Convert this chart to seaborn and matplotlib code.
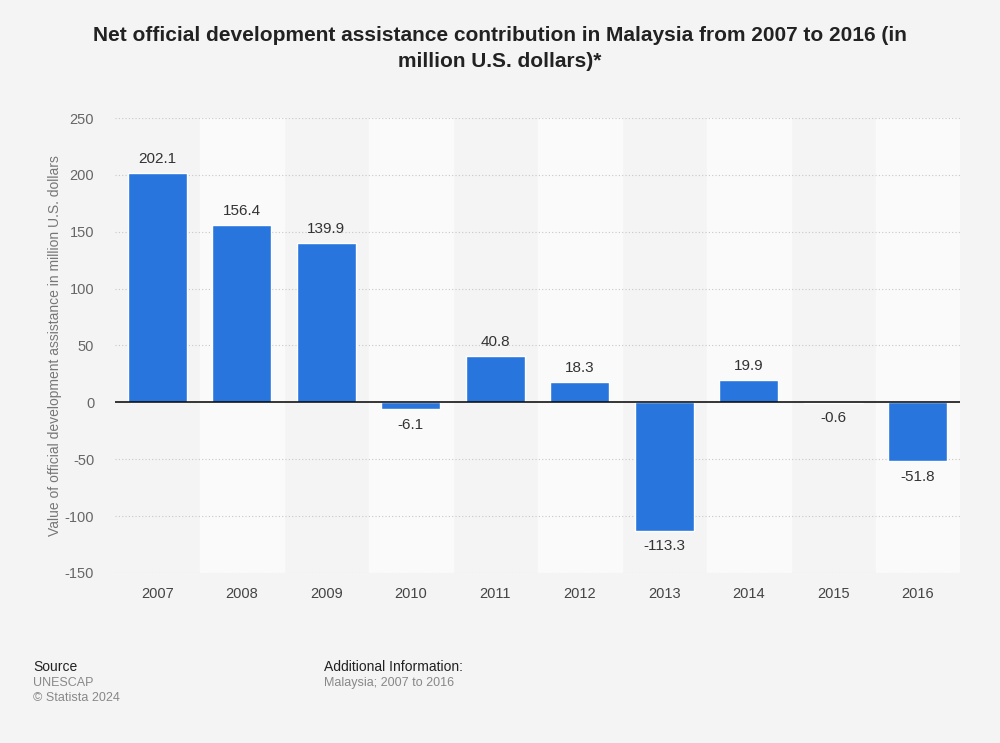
import matplotlib
matplotlib.use("Agg")
import matplotlib.pyplot as plt
import seaborn as sns
import pandas as pd

# data
years = ["2007", "2008", "2009", "2010", "2011", "2012", "2013", "2014", "2015", "2016"]
values = [202.1, 156.4, 139.9, -6.1, 40.8, 18.3, -113.3, 19.9, -0.6, -51.8]
y_ticks = [-150, -100, -50, 0, 50, 100, 150, 200, 250]

df = pd.DataFrame({"year": years, "value": values})

sns.set_style("white")
plt.rcParams["font.family"] = ["Liberation Sans", "DejaVu Sans"]

bg = "#f4f4f4"
fig = plt.figure(figsize=(10, 7.43), dpi=100, facecolor=bg)
ax = fig.add_axes([0.115, 0.229, 0.845, 0.612])
ax.set_facecolor(bg)

# alternating column bands
for i in range(len(years)):
    if i % 2 == 1:
        ax.axvspan(i - 0.5, i + 0.5, color="#fafafa", zorder=0)

sns.barplot(data=df, x="year", y="value", color="#2876dd", width=0.7,
            saturation=1, ax=ax, zorder=3)

ax.set_xlim(-0.5, len(years) - 0.5)
ax.set_ylim(-150, 250)
ax.set_yticks(y_ticks)
ax.set_yticklabels([str(t) for t in y_ticks])
for t in y_ticks:
    if t != 0:
        ax.axhline(t, color="#c8c8c8", lw=0.8, ls=(0, (1, 2)), zorder=1)
ax.axhline(0, color="#000000", lw=1.1, zorder=4)

for s in ax.spines.values():
    s.set_visible(False)
ax.tick_params(axis="both", length=0, labelsize=10.5, colors="#444444")
ax.tick_params(axis="x", pad=10)
ax.tick_params(axis="y", pad=15)
for lab in ax.get_yticklabels():
    lab.set_color("#666666")
ax.set_xlabel("")
ax.set_ylabel("Value of official development assistance in million U.S. dollars",
              fontsize=10, color="#777777", labelpad=2)

for i, v in enumerate(values):
    off = 5 if v >= 0 else -6
    ax.annotate(f"{v}", (i, v), xytext=(0, off), textcoords="offset points",
                ha="center", va="bottom" if v >= 0 else "top",
                fontsize=11, color="#333333", zorder=5)

fig.text(0.5, 0.965, "Net official development assistance contribution in Malaysia from 2007 to 2016 (in\nmillion U.S. dollars)*",
         ha="center", va="top", fontsize=15, fontweight="bold", color="#222222",
         linespacing=1.45)

fig.text(0.033, 0.097, "Source", fontsize=10, color="#222222")
fig.text(0.033, 0.077, "UNESCAP", fontsize=9, color="#888888")
fig.text(0.033, 0.056, "© Statista 2024", fontsize=9, color="#888888")
fig.text(0.324, 0.097, "Additional Information:", fontsize=10, color="#222222")
fig.text(0.324, 0.077, "Malaysia; 2007 to 2016", fontsize=9, color="#888888")

fig.savefig("out.png", dpi=100, facecolor=bg)
